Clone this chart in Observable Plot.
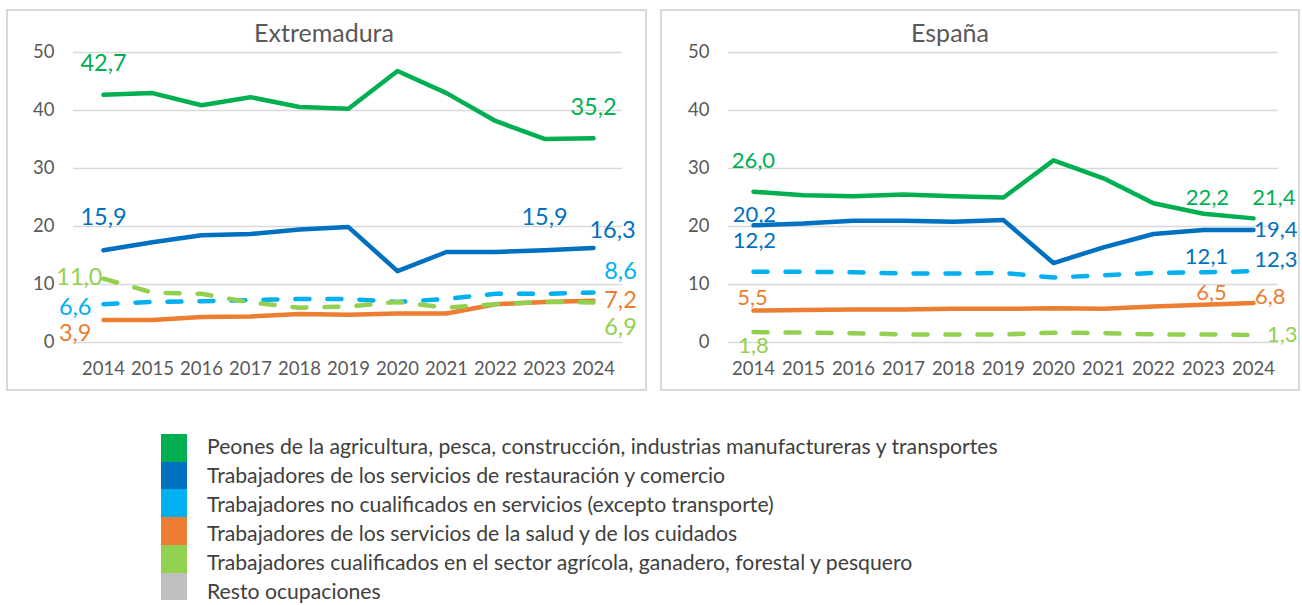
<!DOCTYPE html>
<html>
<head>
<meta charset="utf-8">
<script src="https://cdn.jsdelivr.net/npm/d3@7"></script>
<script src="https://cdn.jsdelivr.net/npm/@observablehq/plot@0.6"></script>
<style>
  html, body { margin: 0; padding: 0; background: #fff; }
  #root { position: relative; width: 1302px; height: 605px; overflow: hidden; font-family: Lato, sans-serif; color: #595959; }
  .panel { position: absolute; box-sizing: border-box; border: 2px solid #D9D9D9; }
  .title { position: absolute; transform: translateX(-50%); font-size: 25px; line-height: 25px; white-space: nowrap; color: #595959; }
  .chart { position: absolute; top: 0; }
  .sw { position: absolute; left: 161px; width: 26px; }
  .lg { position: absolute; left: 207px; font-size: 21.2px; line-height: 26px; height: 26px; white-space: nowrap; color: #404040; }
</style>
</head>
<body>
<div id="root"></div>
<script>
// ---- data ----
const years = ["2014","2015","2016","2017","2018","2019","2020","2021","2022","2023","2024"];
const seriesNames = [
  "Peones de la agricultura, pesca, construcción, industrias manufactureras y transportes",
  "Trabajadores de los servicios de restauración y comercio",
  "Trabajadores no cualificados en servicios (excepto transporte)",
  "Trabajadores de los servicios de la salud y de los cuidados",
  "Trabajadores cualificados en el sector agrícola, ganadero, forestal y pesquero",
  "Resto ocupaciones"
];
const seriesColors = ["#00B050", "#0070C0", "#00B0F0", "#ED7D31", "#92D050", "#BFBFBF"];
const yTicks = [0, 10, 20, 30, 40, 50];
const panelTitles = ["Extremadura", "España"];

// Extremadura
const extPeones     = [42.7, 43.0, 40.9, 42.3, 40.6, 40.3, 46.8, 43.0, 38.2, 35.1, 35.2];
const extRestaur    = [15.9, 17.3, 18.5, 18.7, 19.5, 19.9, 12.3, 15.6, 15.6, 15.9, 16.3];
const extNoCualif   = [6.6, 7.0, 7.1, 7.3, 7.5, 7.5, 7.0, 7.5, 8.4, 8.4, 8.6];
const extSalud      = [3.9, 3.9, 4.4, 4.5, 4.9, 4.8, 5.0, 5.0, 6.6, 7.0, 7.2];
const extAgricola   = [11.0, 8.6, 8.4, 6.9, 6.0, 6.2, 7.0, 6.0, 6.6, 7.0, 6.9];

// España
const espPeones     = [26.0, 25.4, 25.2, 25.5, 25.2, 25.0, 31.4, 28.3, 24.0, 22.2, 21.4];
const espRestaur    = [20.2, 20.5, 21.0, 21.0, 20.8, 21.1, 13.7, 16.4, 18.7, 19.4, 19.4];
const espNoCualif   = [12.2, 12.2, 12.1, 11.9, 11.9, 12.0, 11.2, 11.6, 12.0, 12.1, 12.3];
const espSalud      = [5.5, 5.6, 5.7, 5.7, 5.8, 5.8, 5.9, 5.8, 6.2, 6.5, 6.8];
const espAgricola   = [1.8, 1.7, 1.6, 1.4, 1.4, 1.4, 1.7, 1.6, 1.4, 1.4, 1.3];

const extSeries = [extPeones, extRestaur, extNoCualif, extSalud, extAgricola];
const espSeries = [espPeones, espRestaur, espNoCualif, espSalud, espAgricola];

// ---- label layout: [series, year, dx, dy, anchor, colorSeries] ----
const extLabelLayout = [
  [0, "2014", 0, -31, "middle", 0],
  [0, "2024", 0, -31, "middle", 0],
  [1, "2014", 0, -33, "middle", 1],
  [1, "2023", 0, -33, "middle", 1],
  [1, "2024", 19, -17, "middle", 1],
  [2, "2024", 27, -21, "middle", 2],
  [3, "2024", 27, 0, "middle", 3],
  [4, "2024", 27, 25, "middle", 4],
  [4, "2014", -1, -1, "end", 4],
  [2, "2014", -12, 3, "end", 2],
  [3, "2014", -12, 14, "end", 3]
];
const espLabelLayout = [
  [0, "2014", 0, -31, "middle", 0],
  [0, "2023", 4, -16, "middle", 0],
  [0, "2024", 42, -20, "end", 0],
  [1, "2014", 1, -10, "middle", 1],
  [2, "2014", 1, -31, "middle", 1],
  [1, "2024", 44, 0, "end", 1],
  [2, "2023", 3, -15, "middle", 1],
  [2, "2024", 44, -11, "end", 1],
  [3, "2014", -1, -13, "middle", 3],
  [3, "2023", 8, -12, "middle", 3],
  [3, "2024", 32, -6, "end", 3],
  [4, "2014", 0, 14, "middle", 4],
  [4, "2024", 44, 0, "end", 4]
];

const dashed = [false, false, true, false, true];
const fmt = v => v.toFixed(1).replace(".", ",");

function makeChart(seriesList, layout, opts) {
  const marks = [
    Plot.gridY(yTicks, {stroke: "#D9D9D9", strokeOpacity: 1, strokeWidth: 1.5}),
    Plot.axisY(yTicks, {tickSize: 0, tickPadding: 19, fontSize: 18.5, label: null, tickFormat: d => String(d)}),
    Plot.axisX({tickSize: 0, tickPadding: 19, fontSize: 18.5, label: null})
  ];
  seriesList.forEach((vals, i) => {
    const rows = years.map((y, j) => ({year: y, value: vals[j]}));
    marks.push(Plot.line(rows, {
      x: "year", y: "value", stroke: seriesColors[i], strokeWidth: 4.5,
      strokeDasharray: dashed[i] ? "14,18" : null,
      strokeLinecap: "round", strokeLinejoin: "round"
    }));
  });
  layout.forEach(([s, yr, dx, dy, anchor, c]) => {
    const j = years.indexOf(yr);
    const rows = [{year: yr, value: seriesList[s][j], label: fmt(seriesList[s][j])}];
    marks.push(Plot.text(rows, {
      x: "year", y: "value", text: "label", dx, dy, textAnchor: anchor,
      fill: seriesColors[c], fontSize: opts.labelSize, lineAnchor: "middle"
    }));
  });
  return Plot.plot({
    width: opts.width, height: 395,
    marginLeft: opts.ml, marginRight: opts.mr, marginTop: 52, marginBottom: 53,
    style: {fontFamily: "Lato, sans-serif", color: "#595959", background: "transparent", overflow: "visible"},
    x: {type: "point", domain: years, padding: 0.5, label: null},
    y: {domain: [0, 50], label: null},
    marks
  });
}

const root = document.getElementById("root");
function addDiv(cls, css, text) {
  const d = document.createElement("div");
  d.className = cls;
  Object.assign(d.style, css);
  if (text != null) d.textContent = text;
  root.appendChild(d);
  return d;
}

addDiv("panel", {left: "6px", top: "9px", width: "641px", height: "382px"});
addDiv("panel", {left: "660px", top: "9px", width: "640px", height: "382px"});

const c1 = makeChart(extSeries, extLabelLayout, {width: 650, ml: 73, mr: 28, labelSize: 23.5});
c1.classList.add("chart"); c1.style.left = "0px";
root.appendChild(c1);
const c2 = makeChart(espSeries, espLabelLayout, {width: 647, ml: 73, mr: 24, labelSize: 22});
c2.classList.add("chart"); c2.style.left = "655px";
root.appendChild(c2);

addDiv("title", {left: "324px", top: "19.5px"}, panelTitles[0]);
addDiv("title", {left: "950px", top: "19.5px"}, panelTitles[1]);

// legend
seriesNames.forEach((name, i) => {
  addDiv("sw", {top: (434 + i * 27.7) + "px", height: "27.8px", background: seriesColors[i]});
  addDiv("lg", {top: (433 + i * 29) + "px"}, name);
});
</script>
</body>
</html>
